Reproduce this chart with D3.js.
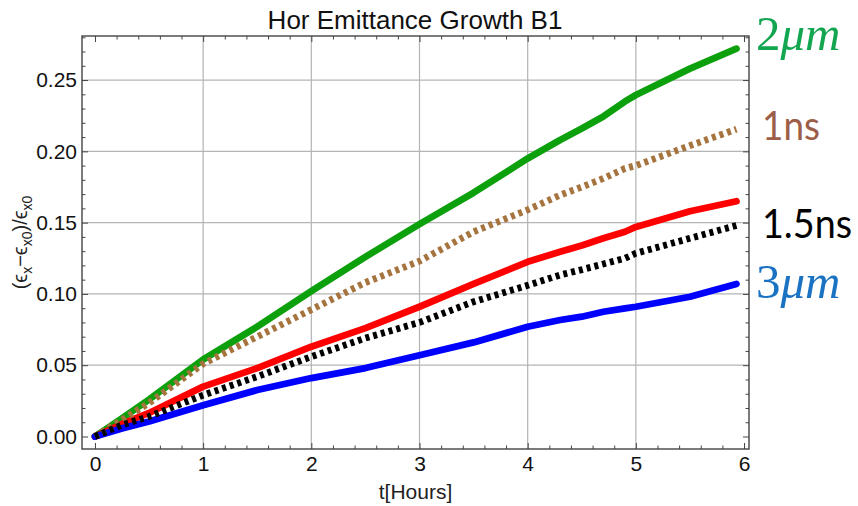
<!DOCTYPE html>
<html>
<head>
<meta charset="utf-8">
<script src="https://cdn.jsdelivr.net/npm/d3@7"></script>
<style>
  html, body { margin: 0; padding: 0; background: #fff; }
  svg { display: block; }
</style>
</head>
<body>
<svg id="chart" width="858" height="506"></svg>
<script>
// Time axis (hours) shared by all series
const hours = [0, 0.25, 0.5, 1, 1.5, 2, 2.5, 3, 3.5, 4, 4.3, 4.5, 4.7, 4.9, 5, 5.5, 5.93];

// Relative horizontal emittance growth (εx − εx0)/εx0
const growth2um  = [0, 0.0128, 0.026, 0.054, 0.077, 0.102, 0.126, 0.149, 0.171, 0.195, 0.208, 0.216, 0.2245, 0.235, 0.2395, 0.258, 0.272];
const growth1ns  = [0, 0.0117, 0.0235, 0.051, 0.070, 0.089, 0.108, 0.123, 0.1436, 0.159, 0.1693, 0.175, 0.181, 0.188, 0.190, 0.204, 0.2155];
const growthRed  = [0, 0.0088, 0.0165, 0.035, 0.048, 0.063, 0.076, 0.091, 0.107, 0.1225, 0.1296, 0.134, 0.139, 0.1436, 0.147, 0.158, 0.165];
const growth15ns = [0, 0.0081, 0.014, 0.029, 0.042, 0.056, 0.069, 0.080, 0.0945, 0.106, 0.1133, 0.117, 0.121, 0.125, 0.1285, 0.139, 0.148];
const growth3um  = [0, 0.0057, 0.0105, 0.022, 0.0326, 0.041, 0.048, 0.057, 0.066, 0.077, 0.0817, 0.084, 0.0875, 0.0899, 0.091, 0.098, 0.107];

// Tick values
const xMajorTicks = [0, 1, 2, 3, 4, 5, 6];
const xMinorTicks = d3.range(0, 6.01, 0.2).map(v => +v.toFixed(1)).filter(v => !xMajorTicks.includes(v));
const yMajorTicks = [0, 0.05, 0.10, 0.15, 0.20, 0.25];
const yMinorTicks = d3.range(0, 0.281, 0.01).map(v => +v.toFixed(2)).filter(v => !yMajorTicks.some(m => Math.abs(m - v) < 1e-9));
const xGrid = [1, 2, 3, 4, 5];
const yGrid = [0.05, 0.10, 0.15, 0.20, 0.25];

const titleText = "Hor Emittance Growth B1";
const xLabelText = "t[Hours]";

const svg = d3.select("#chart");
const plot = { left: 82, right: 749, top: 36, bottom: 449 };

const x = d3.scaleLinear().domain([-0.12, 6.046]).range([plot.left, plot.right]);
const y = d3.scaleLinear().domain([-0.00877, 0.2809]).range([plot.bottom, plot.top]);

const axisFont = "'Liberation Sans', Arial, sans-serif";

// grid lines
const grid = svg.append("g").attr("stroke", "#b4b4b4").attr("stroke-width", 1.2);
grid.selectAll("line.gx").data(xGrid).join("line")
  .attr("x1", d => x(d)).attr("x2", d => x(d))
  .attr("y1", plot.top).attr("y2", plot.bottom);
grid.selectAll("line.gy").data(yGrid).join("line")
  .attr("x1", plot.left).attr("x2", plot.right)
  .attr("y1", d => y(d)).attr("y2", d => y(d));

// clip for data curves
svg.append("clipPath").attr("id", "plotClip").append("rect")
  .attr("x", plot.left).attr("y", plot.top)
  .attr("width", plot.right - plot.left).attr("height", plot.bottom - plot.top);

const line = d3.line().x(d => x(d[0])).y(d => y(d[1]));
const series = [
  { values: growth2um,  color: "#0ca00c", dash: null },
  { values: growthRed,  color: "#ff0000", dash: null },
  { values: growth3um,  color: "#0000ff", dash: null },
  { values: growth1ns,  color: "#a6743e", dash: "4 4" },
  { values: growth15ns, color: "#000000", dash: "4 4" }
];
const curves = svg.append("g").attr("clip-path", "url(#plotClip)");
series.forEach(s => {
  curves.append("path")
    .datum(hours.map((t, i) => [t, s.values[i]]))
    .attr("d", line)
    .attr("fill", "none")
    .attr("stroke", s.color)
    .attr("stroke-width", 6.8)
    .attr("stroke-linejoin", "round")
    .attr("stroke-linecap", s.dash ? "butt" : "round")
    .attr("stroke-dasharray", s.dash);
});

// frame axes: labelled bottom/left, bare top/right, all ticks pointing inward
function styleAxis(g) {
  g.select(".domain").remove();
  g.selectAll(".tick line").attr("stroke", "#444").attr("stroke-width", 1);
  g.selectAll(".tick text").attr("fill", "#111").style("font-family", axisFont).style("font-size", "21px");
}

svg.append("g").attr("transform", `translate(0,${plot.bottom})`)
  .call(d3.axisBottom(x).tickValues(xMajorTicks).tickFormat(d3.format("d")).tickSize(-6).tickPadding(7))
  .call(styleAxis);
svg.append("g").attr("transform", `translate(0,${plot.bottom})`)
  .call(d3.axisBottom(x).tickValues(xMinorTicks).tickFormat("").tickSize(-3.5))
  .call(styleAxis);
svg.append("g").attr("transform", `translate(0,${plot.top})`)
  .call(d3.axisTop(x).tickValues(xMajorTicks).tickFormat("").tickSize(-6))
  .call(styleAxis);
svg.append("g").attr("transform", `translate(0,${plot.top})`)
  .call(d3.axisTop(x).tickValues(xMinorTicks).tickFormat("").tickSize(-3.5))
  .call(styleAxis);

svg.append("g").attr("transform", `translate(${plot.left},0)`)
  .call(d3.axisLeft(y).tickValues(yMajorTicks).tickFormat(d3.format(".2f")).tickSize(-6).tickPadding(5))
  .call(styleAxis);
svg.append("g").attr("transform", `translate(${plot.left},0)`)
  .call(d3.axisLeft(y).tickValues(yMinorTicks).tickFormat("").tickSize(-3.5))
  .call(styleAxis);
svg.append("g").attr("transform", `translate(${plot.right},0)`)
  .call(d3.axisRight(y).tickValues(yMajorTicks).tickFormat("").tickSize(-6))
  .call(styleAxis);
svg.append("g").attr("transform", `translate(${plot.right},0)`)
  .call(d3.axisRight(y).tickValues(yMinorTicks).tickFormat("").tickSize(-3.5))
  .call(styleAxis);

// frame
svg.append("rect")
  .attr("x", plot.left).attr("y", plot.top)
  .attr("width", plot.right - plot.left).attr("height", plot.bottom - plot.top)
  .attr("fill", "none").attr("stroke", "#444").attr("stroke-width", 1.4);

// title
svg.append("text")
  .attr("x", 415).attr("y", 29)
  .attr("text-anchor", "middle")
  .style("font-family", axisFont).style("font-size", "26px").attr("fill", "#111")
  .text(titleText);

// x label
svg.append("text")
  .attr("x", (plot.left + plot.right) / 2).attr("y", 499)
  .attr("text-anchor", "middle")
  .style("font-family", axisFont).style("font-size", "21px").attr("fill", "#222")
  .text(xLabelText);

// y label: (ϵx − ϵx0)/ϵx0
const yl = svg.append("text")
  .attr("transform", `translate(27,${(plot.top + plot.bottom) / 2}) rotate(-90)`)
  .attr("text-anchor", "middle")
  .style("font-family", axisFont).style("font-size", "20px").attr("fill", "#222");
[["(ϵ", 0], ["x", 1], ["−ϵ", 0], ["x0", 1], [")/ϵ", 0], ["x0", 1]].forEach(([t, sub]) => {
  yl.append("tspan")
    .attr("dy", sub ? 5 : -5)
    .style("font-size", sub ? "14px" : "20px")
    .text(t);
});
yl.select("tspan").attr("dy", 0);

// series names at the right edge
const nameFont = "Lato, 'Open Sans', sans-serif";
const mathFont = "'Liberation Serif', 'DejaVu Serif', serif";
const names = [
  { num: "2", unit: "μm", y: 50, color: "#13a651", math: true },
  { num: "1ns", unit: "", y: 140, color: "#9d5e49", math: false, len: 58 },
  { num: "1.5ns", unit: "", y: 238, color: "#000000", math: false, len: 90 },
  { num: "3", unit: "μm", y: 298, color: "#1a72c2", math: true }
];
names.forEach(n => {
  const t = svg.append("text").attr("x", n.math ? 756 : 762).attr("y", n.y).attr("fill", n.color);
  if (n.math) {
    t.style("font-family", mathFont).style("font-size", "49px");
    t.append("tspan").text(n.num);
    t.append("tspan").style("font-style", "italic").text(n.unit);
  } else {
    t.style("font-family", nameFont).style("font-size", "40px")
      .attr("textLength", n.len).attr("lengthAdjust", "spacingAndGlyphs")
      .text(n.num);
  }
});
</script>
</body>
</html>
